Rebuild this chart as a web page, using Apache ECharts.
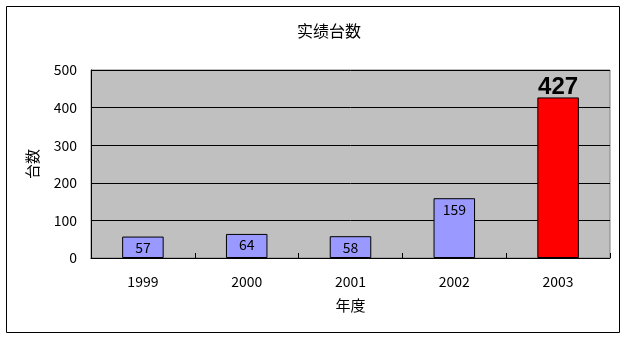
<!DOCTYPE html>
<html>
<head>
<meta charset="utf-8">
<script src="https://cdn.jsdelivr.net/npm/echarts@6/dist/echarts.min.js"></script>
<style>html,body{margin:0;padding:0;background:#fff}#c{width:627px;height:339px}</style>
</head>
<body>
<div id="c"></div>
<script>
const categories = ['1999', '2000', '2001', '2002', '2003'];
const values = [57, 64, 58, 159, 427];
const highlightIndex = 4;
const titleText = '实绩台数';
const xName = '年度';
const yName = '台数';

const font = '"Noto Sans CJK JP", "Liberation Sans", sans-serif';
const chart = echarts.init(document.getElementById('c'), null, {renderer: 'canvas'});
const data = values.map((v, i) => {
  if (i === highlightIndex) {
    return {
      value: v,
      itemStyle: {color: '#FF0000'},
      label: {position: 'top', distance: -2, fontSize: 24, fontWeight: 'bold', fontFamily: '"Liberation Sans Narrow", "Liberation Sans", sans-serif'}
    };
  }
  return {value: v};
});
chart.setOption({
  animation: false,
  backgroundColor: '#fff',
  graphic: [{type: 'rect', shape: {x: 6.5, y: 6.5, width: 613, height: 326}, style: {fill: 'none', stroke: '#000', lineWidth: 1}, z: -1}],
  title: {text: titleText, left: 292, top: 18, textStyle: {fontSize: 16, fontWeight: 'normal', color: '#000', fontFamily: font}},
  grid: {left: 91, right: 17, top: 70, bottom: 81, show: true, backgroundColor: '#C0C0C0', borderColor: '#808080', borderWidth: 1},
  xAxis: {
    type: 'category', data: categories,
    name: xName, nameLocation: 'middle', nameGap: 40,
    nameTextStyle: {fontSize: 15, color: '#000', fontFamily: font},
    axisLine: {lineStyle: {color: '#000', width: 1}},
    axisTick: {show: true, inside: true, length: 5, lineStyle: {color: '#000'}},
    axisLabel: {fontSize: 14, color: '#000', margin: 17, fontFamily: font}
  },
  yAxis: {
    type: 'value', min: 0, max: 500, interval: 100,
    name: yName, nameLocation: 'middle', nameGap: 51, nameRotate: 90,
    nameTextStyle: {fontSize: 15, color: '#000', fontFamily: font},
    axisLine: {show: true, lineStyle: {color: '#000', width: 1}},
    axisTick: {show: false},
    axisLabel: {fontSize: 14, color: '#000', margin: 14, fontFamily: font},
    splitLine: {lineStyle: {color: '#000', width: 1}}
  },
  series: [{
    type: 'bar', data: data, barWidth: '40%',
    itemStyle: {color: '#9999FF', borderColor: '#000', borderWidth: 1},
    label: {show: true, position: 'insideTop', distance: 4, fontSize: 14, color: '#000', fontFamily: font}
  }]
});
</script>
</body>
</html>
